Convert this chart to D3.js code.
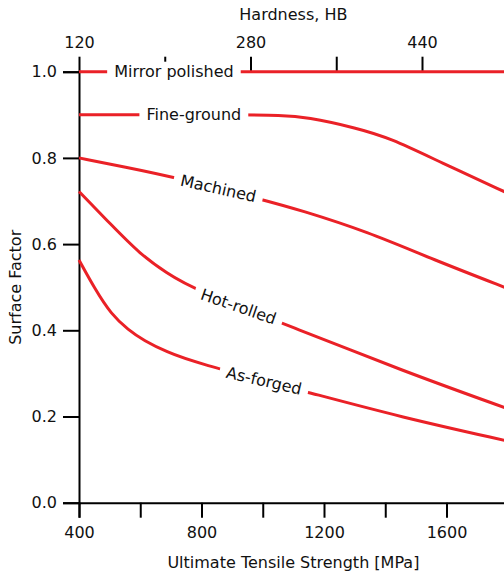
<!DOCTYPE html>
<html>
<head>
<meta charset="utf-8">
<script src="https://cdn.jsdelivr.net/npm/d3@7"></script>
<style>
  html, body { margin: 0; padding: 0; background: #fff; }
  svg { display: block; }
  text { font-family: "DejaVu Sans", sans-serif; fill: #111; }
</style>
</head>
<body>
<svg id="chart" width="504" height="576"></svg>
<script>
// Surface factor vs. ultimate tensile strength, per surface finish
const mirrorMpa = [400, 1800];
const mirrorVal = [1.0, 1.0];

const fineMpa = [400, 958, 1050, 1145, 1308, 1416, 1580, 1800];
const fineVal = [0.9, 0.9, 0.899, 0.895, 0.869, 0.846, 0.79, 0.718];

const machinedMpa = [400, 550, 714, 1000, 1122, 1341, 1557, 1800];
const machinedVal = [0.8, 0.779, 0.755, 0.703, 0.679, 0.629, 0.564, 0.497];

const hotMpa = [400, 505, 599, 686, 773, 1122, 1449, 1800];
const hotVal = [0.722, 0.645, 0.577, 0.533, 0.495, 0.401, 0.308, 0.218];

const forgedMpa = [400, 451, 505, 561, 612, 686, 773, 1155, 1449, 1800];
const forgedVal = [0.563, 0.497, 0.437, 0.401, 0.376, 0.350, 0.326, 0.255, 0.199, 0.143];

const seriesNames = ["Mirror polished", "Fine-ground", "Machined", "Hot-rolled", "As-forged"];

// axis ticks
const mpaTicks = [400, 600, 800, 1000, 1200, 1400, 1600, 1800];
const mpaLabeled = [400, 800, 1200, 1600];
const hbTicks = [120, 200, 280, 360, 440, 520];
const hbLabeled = [120, 280, 440];
const factorTicks = [0, 0.2, 0.4, 0.6, 0.8, 1.0];

// where each inline label sits along its curve (MPa) and its tilt
const labelMpa = [710, 775, 855, 921, 1004];
const labelTilt = [0, 0, 12.5, 19, 13];

const svg = d3.select("#chart");
const fs = 16;

const x = d3.scaleLinear().domain([400, 1800]).range([79, 507.75]);
const y = d3.scaleLinear().domain([0, 1]).range([502.7, 71.7]);
// Brinell hardness along the top: MPa ≈ 3.5·HB − 20
const hb = d3.scaleLinear().domain([120, 440]).range([x(3.5 * 120 - 20), x(3.5 * 440 - 20)]);

const series = [
  [mirrorMpa, mirrorVal],
  [fineMpa, fineVal],
  [machinedMpa, machinedVal],
  [hotMpa, hotVal],
  [forgedMpa, forgedVal]
].map(([m, v], i) => ({ name: seriesNames[i], pts: m.map((d, j) => [d, v[j]]) }));

function styleAxis(g, sw) {
  g.select(".domain").attr("stroke", "#000").attr("stroke-width", sw);
  g.selectAll(".tick line").attr("stroke", "#000").attr("stroke-width", sw);
  g.selectAll(".tick text").style("font-family", "DejaVu Sans, sans-serif").style("font-size", fs + "px").attr("fill", "#111");
}

// bottom axis
const gx = svg.append("g").attr("transform", `translate(0,${y(0)})`)
  .call(d3.axisBottom(x).tickValues(mpaTicks).tickSize(15).tickPadding(9)
    .tickFormat(d => mpaLabeled.includes(d) ? d : ""));
styleAxis(gx, 2);

// left axis
const gy = svg.append("g").attr("transform", `translate(${x(400)},0)`)
  .call(d3.axisLeft(y).tickValues(factorTicks).tickSize(16).tickPadding(6).tickFormat(d3.format(".1f")));
styleAxis(gy, 2);

// top axis (hardness)
const gt = svg.append("g").attr("transform", `translate(0,${y(1)})`)
  .call(d3.axisTop(hb).tickValues(hbTicks).tickSize(15).tickPadding(9)
    .tickFormat(d => hbLabeled.includes(d) ? d : ""));
styleAxis(gt, 2);
gt.select(".domain").remove();

// curves
const line = d3.line().x(d => x(d[0])).y(d => y(d[1])).curve(d3.curveBasis);
svg.append("clipPath").attr("id", "plotclip")
  .append("rect").attr("x", 0).attr("y", 0).attr("width", 504).attr("height", 576);
svg.append("g").attr("clip-path", "url(#plotclip)")
  .selectAll("path").data(series).join("path")
  .attr("d", d => line(d.pts))
  .attr("fill", "none")
  .attr("stroke", "#ea2127")
  .attr("stroke-width", 3);

// inline labels with a white gap behind them
function valueAt(pts, m) {
  for (let i = 1; i < pts.length; i++) {
    if (m <= pts[i][0]) {
      const t = (m - pts[i - 1][0]) / (pts[i][0] - pts[i - 1][0]);
      return pts[i - 1][1] + t * (pts[i][1] - pts[i - 1][1]);
    }
  }
  return pts[pts.length - 1][1];
}

series.forEach((s, i) => {
  const m = labelMpa[i];
  const cx = x(m), cy = y(valueAt(s.pts, m));
  const g = svg.append("g").attr("transform", `translate(${cx},${cy}) rotate(${labelTilt[i]})`);
  const t = g.append("text")
    .attr("text-anchor", "middle")
    .attr("dy", "0.35em")
    .style("font-size", fs + "px")
    .text(s.name);
  const w = t.node().getComputedTextLength();
  g.insert("rect", "text")
    .attr("x", -w / 2 - 7).attr("y", -10)
    .attr("width", w + 14).attr("height", 20)
    .attr("fill", "#fff");
});

// axis titles
svg.append("text").attr("x", 293.4).attr("y", 568).attr("text-anchor", "middle")
  .style("font-size", fs + "px").text("Ultimate Tensile Strength [MPa]");
svg.append("text").attr("x", 293.4).attr("y", 20).attr("text-anchor", "middle")
  .style("font-size", fs + "px").text("Hardness, HB");
svg.append("text").attr("transform", `translate(21,287.3) rotate(-90)`).attr("text-anchor", "middle")
  .style("font-size", fs + "px").text("Surface Factor");
</script>
</body>
</html>
